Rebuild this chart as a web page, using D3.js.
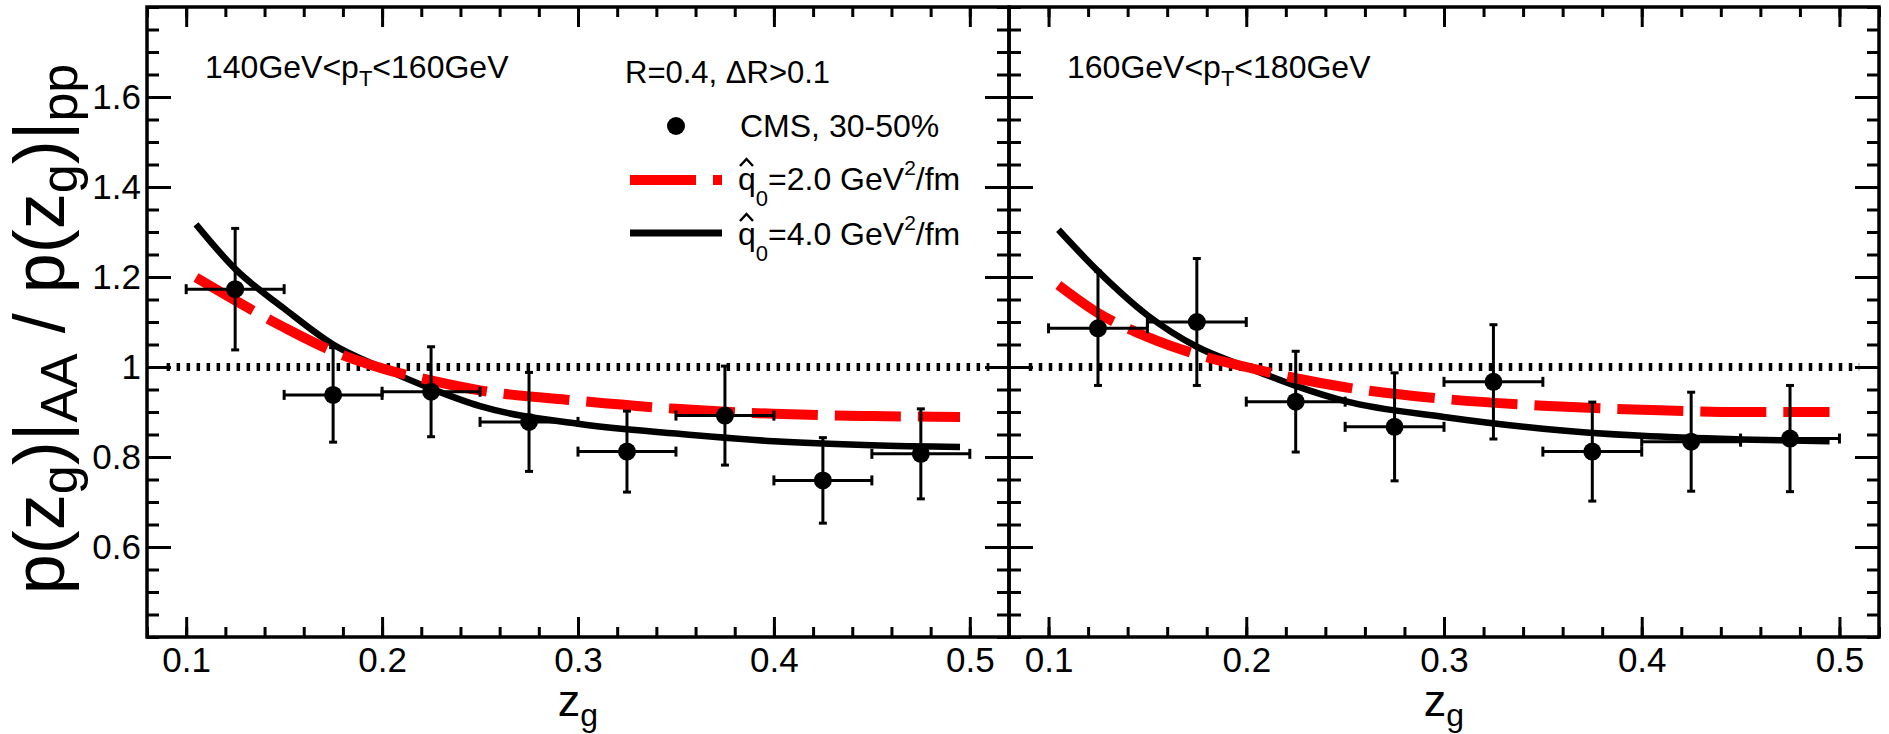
<!DOCTYPE html>
<html>
<head>
<meta charset="utf-8">
<script src="https://cdn.jsdelivr.net/npm/d3@7"></script>
<style>
body { margin: 0; background: #fff; }
svg text { font-family: "Liberation Sans", Arial, Helvetica, sans-serif; fill: #000; }
.tick text { font-size: 35px; }
</style>
</head>
<body>
<div id="chart"></div>
<script>
// values
var zgBins = [0.125, 0.175, 0.225, 0.275, 0.325, 0.375, 0.425, 0.475];
var binHalfWidth = 0.025;

var cms140 = [1.173, 0.938, 0.945, 0.878, 0.812, 0.892, 0.748, 0.807];
var cmsErr140 = [0.135, 0.105, 0.100, 0.110, 0.090, 0.110, 0.095, 0.100];
var cms160 = [1.086, 1.100, 0.923, 0.867, 0.967, 0.812, 0.834, 0.841];
var cmsErr160 = [0.127, 0.141, 0.112, 0.120, 0.127, 0.110, 0.110, 0.118];

var zgCurve = [0.105, 0.125, 0.15, 0.175, 0.2, 0.225, 0.25, 0.3, 0.35, 0.4, 0.45, 0.495];
var qhat2_140 = [1.199, 1.148, 1.088, 1.035, 0.997, 0.970, 0.948, 0.925, 0.907, 0.896, 0.891, 0.889];
var qhat4_140 = [1.317, 1.218, 1.130, 1.050, 0.998, 0.952, 0.913, 0.874, 0.852, 0.835, 0.826, 0.822];
var qhat2_160 = [1.182, 1.120, 1.067, 1.028, 1.000, 0.975, 0.955, 0.929, 0.914, 0.905, 0.900, 0.900];
var qhat4_160 = [1.305, 1.213, 1.115, 1.045, 1.000, 0.958, 0.924, 0.889, 0.863, 0.847, 0.839, 0.835];

var xTicks = [0.1, 0.2, 0.3, 0.4, 0.5];
var xTickLabels = ["0.1", "0.2", "0.3", "0.4", "0.5"];
var yTicks = [0.6, 0.8, 1.0, 1.2, 1.4, 1.6];
var yTickLabels = ["0.6", "0.8", "1", "1.2", "1.4", "1.6"];

var ptLow = ["140", "160"];
var ptHigh = ["160", "180"];

// layout ("top" is taken by window.top, so plotTop)
var W = 1889, H = 734;
var plotTop = 7, plotBottom = 637;
var panelEdges = [[147, 1009], [1009, 1879]];
var xDomain = [0.08, 0.52];
var yDomain = [0.4, 1.8];

var svg = d3.select("#chart").append("svg")
    .attr("width", W)
    .attr("height", H);

var y = d3.scaleLinear().domain(yDomain).range([plotBottom, plotTop]);

var xMinor = d3.range(0.08, 0.5201, 0.02);
var yMinor = d3.range(0.4, 1.8001, 0.05);

function cleanAxis(g){
    g.select(".domain").remove();
    g.attr("font-size", null).attr("font-family", null);
    g.selectAll(".tick line").attr("stroke", "#000").attr("stroke-width", 3);
}

function drawPanel(i){
    var x0 = panelEdges[i][0], x1 = panelEdges[i][1];
    var x = d3.scaleLinear().domain(xDomain).range([x0, x1]);
    var g = svg.append("g").attr("class", "panel" + i);

    var data = i == 0 ? cms140 : cms160;
    var errs = i == 0 ? cmsErr140 : cmsErr160;
    var red = i == 0 ? qhat2_140 : qhat2_160;
    var black = i == 0 ? qhat4_140 : qhat4_160;

    // ticks, all pointing inwards
    var axes = [
        [d3.axisBottom(x).tickValues(xMinor).tickSize(-10).tickFormat(""), 0, plotBottom],
        [d3.axisBottom(x).tickValues(xTicks).tickSize(-20).tickPadding(10)
            .tickFormat(function(d, k){ return xTickLabels[k]; }), 0, plotBottom],
        [d3.axisTop(x).tickValues(xMinor).tickSize(-10).tickFormat(""), 0, plotTop],
        [d3.axisTop(x).tickValues(xTicks).tickSize(-20).tickFormat(""), 0, plotTop],
        [d3.axisLeft(y).tickValues(yMinor).tickSize(-12).tickFormat(""), x0, 0],
        [d3.axisLeft(y).tickValues(yTicks).tickSize(-24).tickPadding(6)
            .tickFormat(function(d, k){ return i == 0 ? yTickLabels[k] : ""; }), x0, 0],
        [d3.axisRight(y).tickValues(yMinor).tickSize(-12).tickFormat(""), x1, 0],
        [d3.axisRight(y).tickValues(yTicks).tickSize(-24).tickFormat(""), x1, 0]
    ];
    axes.forEach(function(a){
        var ag = g.append("g").attr("transform", "translate(" + a[1] + "," + a[2] + ")");
        ag.call(a[0]);
        cleanAxis(ag);
    });

    // dotted line at 1
    g.append("line")
        .attr("x1", x(0.09)).attr("x2", x(0.51))
        .attr("y1", y(1)).attr("y2", y(1))
        .attr("stroke", "#000").attr("stroke-width", 8)
        .attr("stroke-dasharray", "3.5,6.5");

    // model curves
    var line = d3.line()
        .x(function(d, k){ return x(zgCurve[k]); })
        .y(function(d){ return y(d); })
        .curve(d3.curveMonotoneX);

    g.append("path").datum(black)
        .attr("d", line)
        .attr("fill", "none").attr("stroke", "#000").attr("stroke-width", 6.5);

    g.append("path").datum(red)
        .attr("d", line)
        .attr("fill", "none").attr("stroke", "#ff0000").attr("stroke-width", 10)
        .attr("stroke-dasharray", "66,17");

    // data with error bars
    var pts = g.selectAll(".pt").data(data).enter().append("g").attr("class", "pt");
    pts.append("line")
        .attr("x1", function(d, k){ return x(zgBins[k] - binHalfWidth); })
        .attr("x2", function(d, k){ return x(zgBins[k] + binHalfWidth); })
        .attr("y1", function(d){ return y(d); })
        .attr("y2", function(d){ return y(d); });
    pts.append("line")
        .attr("x1", function(d, k){ return x(zgBins[k]); })
        .attr("x2", function(d, k){ return x(zgBins[k]); })
        .attr("y1", function(d, k){ return y(d - errs[k]); })
        .attr("y2", function(d, k){ return y(d + errs[k]); });
    // end caps
    [-1, 1].forEach(function(s){
        pts.append("line")
            .attr("x1", function(d, k){ return x(zgBins[k] + s * binHalfWidth); })
            .attr("x2", function(d, k){ return x(zgBins[k] + s * binHalfWidth); })
            .attr("y1", function(d){ return y(d) - 5; })
            .attr("y2", function(d){ return y(d) + 5; });
        pts.append("line")
            .attr("x1", function(d, k){ return x(zgBins[k]) - 4; })
            .attr("x2", function(d, k){ return x(zgBins[k]) + 4; })
            .attr("y1", function(d, k){ return y(d + s * errs[k]); })
            .attr("y2", function(d, k){ return y(d + s * errs[k]); });
    });
    pts.selectAll("line").attr("stroke", "#000").attr("stroke-width", 3);
    pts.append("circle")
        .attr("cx", function(d, k){ return x(zgBins[k]); })
        .attr("cy", function(d){ return y(d); })
        .attr("r", 9).attr("fill", "#000");

    // frame
    g.append("rect")
        .attr("x", x0).attr("y", plotTop)
        .attr("width", x1 - x0).attr("height", plotBottom - plotTop)
        .attr("fill", "none").attr("stroke", "#000").attr("stroke-width", 3.5);

    // pT label
    var lab = g.append("text").attr("x", x0 + 58).attr("y", 78).attr("font-size", 32);
    lab.append("tspan").text(ptLow[i] + "GeV<p");
    lab.append("tspan").attr("font-size", 22).attr("dy", 8).text("T");
    lab.append("tspan").attr("dy", -8).text("<" + ptHigh[i] + "GeV");

    // x title
    var xt = g.append("text").attr("x", (x0 + x1) / 2).attr("y", 716)
        .attr("text-anchor", "middle").attr("font-size", 45);
    xt.append("tspan").text("z");
    xt.append("tspan").attr("font-size", 32).attr("dy", 10).text("g");
}

drawPanel(0);
drawPanel(1);

// y title
var yt = svg.append("text")
    .attr("transform", "translate(64,329) rotate(-90)")
    .attr("text-anchor", "middle")
    .attr("font-size", 72);
yt.append("tspan").text("p(z");
yt.append("tspan").attr("font-size", 52).attr("dy", 13).text("g");
yt.append("tspan").attr("dy", -13).text(")|");
yt.append("tspan").attr("font-size", 52).attr("dy", 13).text("AA");
yt.append("tspan").attr("dy", -13).text(" / p(z");
yt.append("tspan").attr("font-size", 52).attr("dy", 13).text("g");
yt.append("tspan").attr("dy", -13).text(")|");
yt.append("tspan").attr("font-size", 52).attr("dy", 13).text("pp");

// legend
var leg = svg.append("g").attr("class", "legend");
leg.append("text").attr("x", 625).attr("y", 83).attr("font-size", 31).text("R=0.4, \u0394R>0.1");
leg.append("circle").attr("cx", 676).attr("cy", 126).attr("r", 9).attr("fill", "#000");
leg.append("text").attr("x", 740).attr("y", 137).attr("font-size", 32).text("CMS, 30-50%");

var legModels = [
    {value: "2.0", color: "#ff0000", width: 10, dash: "66,17", ly: 180, ty: 190},
    {value: "4.0", color: "#000", width: 7, dash: null, ly: 233, ty: 245}
];
legModels.forEach(function(m){
    leg.append("line")
        .attr("x1", 630).attr("x2", 722).attr("y1", m.ly).attr("y2", m.ly)
        .attr("stroke", m.color).attr("stroke-width", m.width)
        .attr("stroke-dasharray", m.dash);
    var t = leg.append("text").attr("x", 738).attr("y", m.ty).attr("font-size", 32);
    t.append("tspan").text("q");
    t.append("tspan").attr("font-size", 22).attr("dy", 16).text("0");
    t.append("tspan").attr("dy", -16).text("=" + m.value + " GeV");
    t.append("tspan").attr("font-size", 21).attr("dy", -15).text("2");
    t.append("tspan").attr("dy", 15).text("/fm");
    // hat over the q
    leg.append("path")
        .attr("d", "M" + 740 + "," + (m.ty - 24) + "L" + 746.5 + "," + (m.ty - 31) + "L" + 753 + "," + (m.ty - 24))
        .attr("fill", "none").attr("stroke", "#000").attr("stroke-width", 2.5);
});
</script>
</body>
</html>
